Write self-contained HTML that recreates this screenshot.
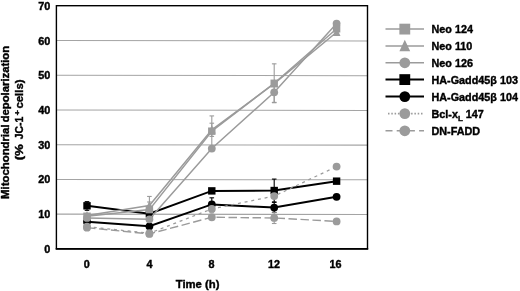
<!DOCTYPE html><html><head><meta charset="utf-8"><style>html,body{margin:0;padding:0;background:#fff;}svg{display:block;filter:blur(0.3px);}text{font-family:"Liberation Sans",sans-serif;font-weight:bold;fill:#000;stroke:#000;stroke-width:0.4px;}</style></head><body>
<svg width="520" height="291" viewBox="0 0 520 291">
<line x1="56" y1="214.14" x2="367.5" y2="214.54" stroke="#a4a4a4" stroke-width="1.05"/>
<line x1="56" y1="179.43" x2="367.5" y2="179.83" stroke="#a4a4a4" stroke-width="1.05"/>
<line x1="56" y1="144.72" x2="367.5" y2="145.12" stroke="#a4a4a4" stroke-width="1.05"/>
<line x1="56" y1="110.01" x2="367.5" y2="110.41" stroke="#a4a4a4" stroke-width="1.05"/>
<line x1="56" y1="75.30" x2="367.5" y2="75.70" stroke="#a4a4a4" stroke-width="1.05"/>
<line x1="56" y1="40.59" x2="367.5" y2="40.99" stroke="#a4a4a4" stroke-width="1.05"/>
<rect x="56.4" y="5.7" width="311.1" height="243" fill="none" stroke="#000" stroke-width="1.4"/>
<line x1="55.7" y1="248.9" x2="368.2" y2="248.9" stroke="#000" stroke-width="1.8"/>
<text x="50.4" y="252.80" font-size="10.9" text-anchor="end">0</text>
<text x="50.4" y="218.09" font-size="10.9" text-anchor="end">10</text>
<text x="50.4" y="183.38" font-size="10.9" text-anchor="end">20</text>
<text x="50.4" y="148.67" font-size="10.9" text-anchor="end">30</text>
<text x="50.4" y="113.96" font-size="10.9" text-anchor="end">40</text>
<text x="50.4" y="79.25" font-size="10.9" text-anchor="end">50</text>
<text x="50.4" y="44.54" font-size="10.9" text-anchor="end">60</text>
<text x="50.4" y="9.83" font-size="10.9" text-anchor="end">70</text>
<text x="86.80" y="268.2" font-size="10.8" text-anchor="middle">0</text>
<text x="149.40" y="268.2" font-size="10.8" text-anchor="middle">4</text>
<text x="211.60" y="268.2" font-size="10.8" text-anchor="middle">8</text>
<text x="273.90" y="268.2" font-size="10.8" text-anchor="middle">12</text>
<text x="335.50" y="268.2" font-size="10.8" text-anchor="middle">16</text>
<text x="197.6" y="288" font-size="11.3" text-anchor="middle">Time (h)</text>
<text transform="translate(9.2,198.9) rotate(-90)" font-size="10.6" textLength="74.5" lengthAdjust="spacingAndGlyphs">Mitochondrial</text>
<text transform="translate(9.2,122.3) rotate(-90)" font-size="10.6" textLength="76.4" lengthAdjust="spacingAndGlyphs">depolarization</text>
<text transform="translate(22.6,160.3) rotate(-90)" font-size="10.6" textLength="16.2" lengthAdjust="spacingAndGlyphs">(%</text>
<text transform="translate(22.6,139.3) rotate(-90)" font-size="10.6" textLength="22.5" lengthAdjust="spacingAndGlyphs">JC-1</text>
<text transform="translate(19.6,115.3) rotate(-90)" font-size="7.0" textLength="5.0" lengthAdjust="spacingAndGlyphs">+</text>
<text transform="translate(22.6,108.5) rotate(-90)" font-size="10.6" textLength="29.0" lengthAdjust="spacingAndGlyphs">cells)</text>
<polyline points="87.00,205.81 149.40,213.79 211.80,190.88 274.20,190.53 336.60,181.16" fill="none" stroke="#000" stroke-width="2.0"/>
<line x1="274.20" y1="201.99" x2="274.20" y2="179.08" stroke="#000" stroke-width="1.1"/>
<line x1="271.90" y1="179.08" x2="276.50" y2="179.08" stroke="#000" stroke-width="1.1"/>
<line x1="271.90" y1="201.99" x2="276.50" y2="201.99" stroke="#000" stroke-width="1.1"/>
<line x1="87.00" y1="210.32" x2="87.00" y2="201.64" stroke="#000" stroke-width="1.1"/>
<line x1="84.70" y1="201.64" x2="89.30" y2="201.64" stroke="#000" stroke-width="1.1"/>
<line x1="84.70" y1="210.32" x2="89.30" y2="210.32" stroke="#000" stroke-width="1.1"/>
<rect x="83.30" y="202.10" width="7.41" height="7.41" fill="#000"/>
<rect x="145.69" y="210.08" width="7.41" height="7.41" fill="#000"/>
<rect x="208.09" y="187.18" width="7.41" height="7.41" fill="#000"/>
<rect x="270.50" y="186.83" width="7.41" height="7.41" fill="#000"/>
<rect x="332.90" y="177.46" width="7.41" height="7.41" fill="#000"/>
<polyline points="87.00,221.77 149.40,226.29 211.80,204.42 274.20,207.54 336.60,196.78" fill="none" stroke="#000" stroke-width="2.0"/>
<line x1="211.80" y1="211.71" x2="211.80" y2="197.82" stroke="#000" stroke-width="1.1"/>
<line x1="209.50" y1="197.82" x2="214.10" y2="197.82" stroke="#000" stroke-width="1.1"/>
<line x1="209.50" y1="211.71" x2="214.10" y2="211.71" stroke="#000" stroke-width="1.1"/>
<line x1="274.20" y1="212.40" x2="274.20" y2="202.34" stroke="#000" stroke-width="1.1"/>
<line x1="271.90" y1="202.34" x2="276.50" y2="202.34" stroke="#000" stroke-width="1.1"/>
<line x1="271.90" y1="212.40" x2="276.50" y2="212.40" stroke="#000" stroke-width="1.1"/>
<circle cx="87.00" cy="221.77" r="3.90" fill="#000"/>
<circle cx="149.40" cy="226.29" r="3.90" fill="#000"/>
<circle cx="211.80" cy="204.42" r="3.90" fill="#000"/>
<circle cx="274.20" cy="207.54" r="3.90" fill="#000"/>
<circle cx="336.60" cy="196.78" r="3.90" fill="#000"/>
<polyline points="87.00,227.67 149.40,233.92 211.80,217.26 274.20,217.96 336.60,221.43" fill="none" stroke="#9b9b9b" stroke-width="1.4" stroke-dasharray="8.5 3.5"/>
<line x1="274.20" y1="223.51" x2="274.20" y2="212.75" stroke="#9b9b9b" stroke-width="1.1"/>
<line x1="271.90" y1="212.75" x2="276.50" y2="212.75" stroke="#9b9b9b" stroke-width="1.1"/>
<line x1="271.90" y1="223.51" x2="276.50" y2="223.51" stroke="#9b9b9b" stroke-width="1.1"/>
<circle cx="87.00" cy="227.67" r="3.90" fill="#9b9b9b"/>
<circle cx="149.40" cy="233.92" r="3.90" fill="#9b9b9b"/>
<circle cx="211.80" cy="217.26" r="3.90" fill="#9b9b9b"/>
<circle cx="274.20" cy="217.96" r="3.90" fill="#9b9b9b"/>
<circle cx="336.60" cy="221.43" r="3.90" fill="#9b9b9b"/>
<polyline points="87.00,226.63 149.40,233.23 211.80,208.93 274.20,196.09 336.60,166.58" fill="none" stroke="#9b9b9b" stroke-width="1.3" stroke-dasharray="3 3.8"/>
<circle cx="87.00" cy="226.63" r="3.90" fill="#9b9b9b"/>
<circle cx="149.40" cy="233.23" r="3.90" fill="#9b9b9b"/>
<circle cx="211.80" cy="208.93" r="3.90" fill="#9b9b9b"/>
<circle cx="274.20" cy="196.09" r="3.90" fill="#9b9b9b"/>
<circle cx="336.60" cy="166.58" r="3.90" fill="#9b9b9b"/>
<polyline points="87.00,217.96 149.40,219.34 211.80,148.54 274.20,92.31 336.60,23.58" fill="none" stroke="#9b9b9b" stroke-width="1.5"/>
<line x1="274.20" y1="102.37" x2="274.20" y2="82.24" stroke="#9b9b9b" stroke-width="1.1"/>
<line x1="271.90" y1="82.24" x2="276.50" y2="82.24" stroke="#9b9b9b" stroke-width="1.1"/>
<line x1="271.90" y1="102.37" x2="276.50" y2="102.37" stroke="#9b9b9b" stroke-width="1.1"/>
<circle cx="87.00" cy="217.96" r="3.90" fill="#9b9b9b"/>
<circle cx="149.40" cy="219.34" r="3.90" fill="#9b9b9b"/>
<circle cx="211.80" cy="148.54" r="3.90" fill="#9b9b9b"/>
<circle cx="274.20" cy="92.31" r="3.90" fill="#9b9b9b"/>
<circle cx="336.60" cy="23.58" r="3.90" fill="#9b9b9b"/>
<polyline points="87.00,215.53 149.40,205.46 211.80,129.79 274.20,83.63 336.60,32.26" fill="none" stroke="#9b9b9b" stroke-width="1.5"/>
<line x1="149.40" y1="210.32" x2="149.40" y2="201.99" stroke="#9b9b9b" stroke-width="1.1"/>
<line x1="147.10" y1="201.99" x2="151.70" y2="201.99" stroke="#9b9b9b" stroke-width="1.1"/>
<line x1="147.10" y1="210.32" x2="151.70" y2="210.32" stroke="#9b9b9b" stroke-width="1.1"/>
<line x1="211.80" y1="136.39" x2="211.80" y2="123.20" stroke="#9b9b9b" stroke-width="1.1"/>
<line x1="209.50" y1="123.20" x2="214.10" y2="123.20" stroke="#9b9b9b" stroke-width="1.1"/>
<line x1="209.50" y1="136.39" x2="214.10" y2="136.39" stroke="#9b9b9b" stroke-width="1.1"/>
<polygon points="87.00,211.08 90.90,219.35 83.10,219.35" fill="#9b9b9b"/>
<polygon points="149.40,201.01 153.30,209.28 145.50,209.28" fill="#9b9b9b"/>
<polygon points="211.80,125.35 215.70,133.61 207.90,133.61" fill="#9b9b9b"/>
<polygon points="274.20,79.18 278.10,87.45 270.30,87.45" fill="#9b9b9b"/>
<polygon points="336.60,27.81 340.50,36.08 332.70,36.08" fill="#9b9b9b"/>
<polyline points="87.00,216.22 149.40,209.62 211.80,131.18 274.20,83.28 336.60,28.79" fill="none" stroke="#9b9b9b" stroke-width="1.5"/>
<line x1="149.40" y1="209.62" x2="149.40" y2="196.44" stroke="#9b9b9b" stroke-width="1.1"/>
<line x1="147.10" y1="196.44" x2="151.70" y2="196.44" stroke="#9b9b9b" stroke-width="1.1"/>
<line x1="211.80" y1="146.45" x2="211.80" y2="115.91" stroke="#9b9b9b" stroke-width="1.1"/>
<line x1="209.50" y1="115.91" x2="214.10" y2="115.91" stroke="#9b9b9b" stroke-width="1.1"/>
<line x1="209.50" y1="146.45" x2="214.10" y2="146.45" stroke="#9b9b9b" stroke-width="1.1"/>
<line x1="274.20" y1="102.72" x2="274.20" y2="63.84" stroke="#9b9b9b" stroke-width="1.1"/>
<line x1="271.90" y1="63.84" x2="276.50" y2="63.84" stroke="#9b9b9b" stroke-width="1.1"/>
<line x1="271.90" y1="102.72" x2="276.50" y2="102.72" stroke="#9b9b9b" stroke-width="1.1"/>
<rect x="83.30" y="212.51" width="7.41" height="7.41" fill="#9b9b9b"/>
<rect x="145.69" y="205.92" width="7.41" height="7.41" fill="#9b9b9b"/>
<rect x="208.09" y="127.48" width="7.41" height="7.41" fill="#9b9b9b"/>
<rect x="270.50" y="79.58" width="7.41" height="7.41" fill="#9b9b9b"/>
<rect x="332.90" y="25.08" width="7.41" height="7.41" fill="#9b9b9b"/>
<line x1="385.5" y1="29.1" x2="424.0" y2="29.1" stroke="#9b9b9b" stroke-width="1.5"/>
<rect x="399.38" y="23.69" width="10.83" height="10.83" fill="#9b9b9b"/>
<text x="431.5" y="33.00" font-size="10.8">Neo 124</text>
<line x1="385.5" y1="46.0" x2="424.0" y2="46.0" stroke="#9b9b9b" stroke-width="1.5"/>
<polygon points="404.80,39.84 410.20,51.29 399.40,51.29" fill="#9b9b9b"/>
<text x="431.5" y="49.90" font-size="10.8">Neo 110</text>
<line x1="385.5" y1="62.8" x2="424.0" y2="62.8" stroke="#9b9b9b" stroke-width="1.5"/>
<circle cx="404.80" cy="62.80" r="5.40" fill="#9b9b9b"/>
<text x="431.5" y="66.70" font-size="10.8">Neo 126</text>
<line x1="385.5" y1="79.6" x2="424.0" y2="79.6" stroke="#000" stroke-width="2.0"/>
<rect x="399.38" y="74.18" width="10.83" height="10.83" fill="#000"/>
<text x="431.5" y="83.50" font-size="10.8">HA-Gadd45β 103</text>
<line x1="385.5" y1="96.6" x2="424.0" y2="96.6" stroke="#000" stroke-width="2.0"/>
<circle cx="404.80" cy="96.60" r="5.40" fill="#000"/>
<text x="431.5" y="100.50" font-size="10.8">HA-Gadd45β 104</text>
<line x1="388.0" y1="113.6" x2="424.0" y2="113.6" stroke="#9b9b9b" stroke-width="1.6" stroke-dasharray="1.5 1.8"/>
<circle cx="404.80" cy="113.60" r="5.40" fill="#9b9b9b"/>
<text x="431.5" y="117.50" font-size="10.8">Bcl-x<tspan font-size="8" dy="3.6">L</tspan><tspan dy="-3.6"> 147</tspan></text>
<line x1="385.5" y1="130.8" x2="424.0" y2="130.8" stroke="#9b9b9b" stroke-width="1.5" stroke-dasharray="7 4.2"/>
<circle cx="404.80" cy="130.80" r="5.40" fill="#9b9b9b"/>
<text x="431.5" y="134.70" font-size="10.8">DN-FADD</text>
</svg></body></html>
